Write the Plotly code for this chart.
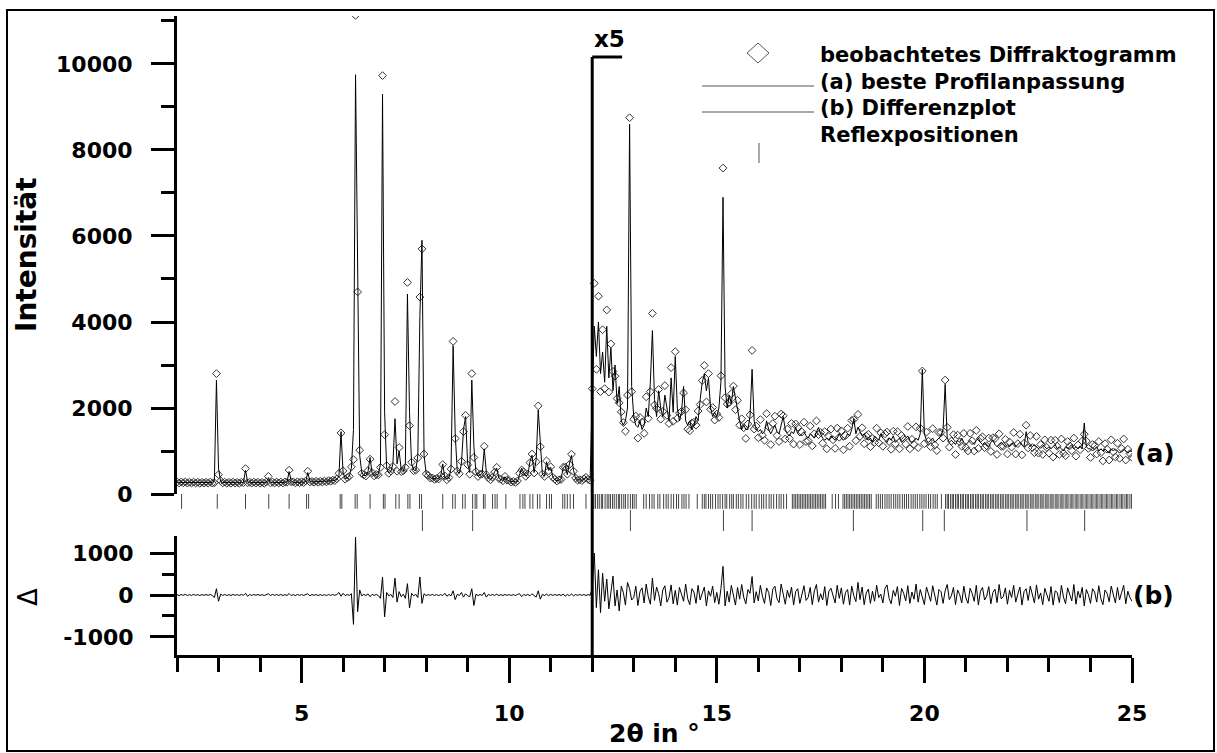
import numpy as np
import plotly.graph_objects as go

# measurement grid, 0.05 deg steps
tth = np.linspace(2.0, 25.0, 461)

# calculated profile 2.00 .. 11.95 (one row per degree)
calc_lo = [
    270, 270, 268, 268, 266, 265, 265, 264, 263, 263, 262, 262, 262, 261, 261, 262, 263, 265, 320, 2650,
    600, 290, 268, 265, 264, 263, 262, 262, 262, 262, 262, 262, 270, 550, 290, 265, 263, 263, 262, 262,
    262, 262, 263, 265, 380, 270, 265, 265, 266, 266, 267, 268, 270, 285, 520, 300, 272, 270, 270, 272,
    274, 276, 290, 500, 300, 280, 282, 284, 286, 288, 290, 292, 295, 300, 305, 310, 320, 340, 420, 1450,
    500, 360, 370, 420, 600, 1500, 9750, 5100, 900, 500, 430, 430, 520, 850, 480, 430, 440, 460, 700, 9300,
    1900, 600, 500, 520, 700, 1750, 700, 1000, 560, 520, 700, 4650, 1900, 700, 560, 540, 900, 4150, 5900, 900,
    480, 420, 380, 360, 350, 350, 360, 420, 700, 380, 360, 370, 600, 3450, 1400, 520, 480, 700, 1500, 1800,
    700, 500, 2650, 1100, 500, 420, 450, 480, 1050, 500, 360, 340, 380, 520, 600, 380, 330, 320, 400, 330,
    300, 290, 285, 280, 290, 450, 600, 500, 420, 450, 750, 900, 500, 800, 1950, 1200, 450, 420, 750, 550,
    620, 400, 330, 310, 320, 350, 600, 650, 450, 700, 900, 550, 360, 330, 320, 320, 340, 400, 330, 330,
]
# calculated profile 12.00 .. 25.00 (shown x5)
calc_hi = [
    2300, 3900, 3200, 4000, 2800, 3300, 2600, 3900, 2700, 3400, 2400, 3000, 2100, 2500, 1700, 1600, 1700, 2000, 8600, 2500,
    1800, 1600, 1550, 1700, 1500, 1600, 2000, 1800, 2600, 3800, 2200, 1800, 2400, 2000, 1800, 2300, 2000, 1700, 2700, 1900,
    3200, 2000, 1700, 1900, 2500, 1700, 1600, 1700, 1500, 1600, 1800, 1700, 2200, 2600, 2800, 2400, 2700, 2000, 1800, 1900,
    1800, 2000, 2600, 6900, 2500, 2000, 2300, 2100, 2500, 2200, 2000, 1700, 1500, 1600, 1500, 1500, 1800, 2900, 1700, 1500,
    1450, 1500, 1400, 1450, 1700, 1500, 1400, 1500, 1600, 1450, 1400, 1600, 1800, 1500, 1400, 1350, 1450, 1400, 1550, 1400,
    1350, 1400, 1450, 1350, 1300, 1400, 1350, 1300, 1450, 1550, 1400, 1300, 1250, 1300, 1250, 1350, 1300, 1250, 1300, 1400,
    1300, 1250, 1300, 1400, 1350, 1500, 1750, 1400, 1550, 1450, 1350, 1400, 1300, 1250, 1300, 1200, 1350, 1300, 1250, 1400,
    1300, 1250, 1200, 1300, 1250, 1350, 1200, 1250, 1300, 1200, 1250, 1300, 1350, 1250, 1200, 1250, 1300, 1250, 1400, 2900,
    1400, 1250, 1200, 1250, 1300, 1200, 1250, 1300, 1350, 1500, 2550, 1300, 1200, 1250, 1200, 1150, 1250, 1200, 1300, 1200,
    1150, 1200, 1250, 1200, 1150, 1250, 1300, 1200, 1150, 1200, 1150, 1100, 1200, 1250, 1150, 1100, 1150, 1200, 1150, 1100,
    1150, 1100, 1150, 1200, 1100, 1150, 1200, 1150, 1100, 1450, 1200, 1150, 1100, 1150, 1100, 1050, 1100, 1150, 1100, 1050,
    1100, 1050, 1100, 1150, 1050, 1100, 1050, 1000, 1100, 1050, 1100, 1150, 1050, 1100, 1050, 1100, 1050, 1650, 1100, 1050,
    1050, 1000, 1050, 1100, 1000, 1050, 1000, 1050, 1000, 950, 1050, 1000, 1050, 1000, 950, 1000, 1050, 1000, 950, 1000,
    1000,
]

# difference obs - calc, same grid
diff_lo = [
    10, -15, 12, -8, 15, -12, 8, -10, 14, -9, 11, -13, 9, -7, 12, -10, 15, -12, -60, 150,
    -150, 20, -10, 12, -14, 9, -11, 13, -8, 10, -12, 14, -9, 40, -30, 11, -10, 12, -9, 13,
    -11, 9, -13, 10, 30, -12, 14, -9, 11, -10, 12, -13, 9, -11, 35, -15, 10, -12, 14, -9,
    11, -10, 13, 30, -20, 12, -9, 11, -13, 10, -12, 9, -14, 11, -10, 13, -9, 12, 60, -30,
    40, -15, 12, -10, 30, -700, 1380, -400, 120, -20, 14, -12, 25, -40, 15, -10, 12, -15, -80, 430,
    -520, 60, -20, 15, -60, 400, -170, 80, -40, 20, -80, 270, -310, 40, -20, 15, -60, 430, -200, 30,
    -15, 12, -10, 13, -11, 9, -12, 10, -14, 40, -30, 12, -20, 100, -110, 15, -10, 60, -50, 30,
    -20, -40, 150, -250, 20, -14, 11, -12, 60, -50, 13, -10, 12, -11, 20, -15, 10, -12, 11, -9,
    10, -12, 9, -11, 13, 30, -40, 12, -10, 14, -20, 30, -12, -50, 100, -100, 14, -12, 20, -15,
    13, -10, 12, -9, 11, -13, 20, -25, 10, -15, 25, -20, 12, -10, 13, -9, 11, -12, 10, -9,
]
diff_hi = [
    150, 1000, -300, 600, -420, 520, -150, 380, -330, 90, 450, -260, 120, -380, 210, 60, -240, 300, 150, -120,
    -60, 210, -250, 80, 170, -190, 260, -40, -220, 400, -130, 190, 30, -260, 120, 220, -170, -60, 240, -210,
    110, -240, 180, 20, -150, 260, -90, -230, 150, 70, -200, 230, -120, 40, 190, -260, 100, -30, 210, -180,
    60, -220, 150, 680, -260, 90, -170, 230, 10, -240, 180, -100, 250, -60, -210, 130, 40, 440, -190, 80,
    -140, 230, -30, -200, 170, 60, -250, 140, 210, -90, -180, 260, 20, -220, 110, -60, 190, -240, 80, 150,
    -200, 40, 220, -130, -60, 180, -230, 100, 250, -170, 30, -120, 200, -250, 90, 160, -40, -190, 230, -80,
    170, -220, 60, 130, -240, 210, -20, -160, 300, -110, 190, -230, 50, 140, -200, 90, -150, 230, -60, 20,
    -190, 150, 240, -80, -210, 110, -30, 200, -250, 160, 40, -140, 220, -200, 70, -100, 260, -170, 130, -40,
    -230, 190, 30, -150, 220, -60, -240, 130, 80, -200, 100, 250, -110, -20, 180, -230, 120, 10, -190, 210,
    -70, -200, 160, 40, -150, 230, -240, 90, 180, -120, -30, 200, -210, 60, 140, -180, 250, -90, -40, 170,
    -220, 110, -60, 230, -170, 20, 190, -240, 80, 150, -130, 210, -20, -190, 240, -100, 50, -230, 160, 30,
    -150, 200, -240, 100, 60, -180, 230, -50, -210, 170, 20, -140, 250, -220, 90, -70, 180, -260, 130, 10,
    -200, 150, 70, -170, 220, -90, -230, 120, 40, -160, 210, -20, -190, 180, -120, 60, 230, -210, 90, -60,
    -150,
]

# reflection positions, main phase and second phase
refl_main = [
    2.11, 2.97, 3.65, 4.21, 4.70, 5.12, 5.17, 5.93, 5.97, 6.29, 6.34, 6.65, 6.97, 7.01, 7.27, 7.35,
    7.56, 7.61, 7.84, 7.89, 8.40, 8.64, 8.70, 8.88, 8.94, 9.12, 9.18, 9.22, 9.38, 9.42, 9.60, 9.66,
    9.71, 9.92, 10.26, 10.33, 10.38, 10.50, 10.57, 10.68, 10.74, 10.90, 10.97, 11.02, 11.29, 11.34,
    11.40, 11.47, 11.55, 11.85,
    12.00, 12.04, 12.08, 12.13, 12.17, 12.22, 12.25, 12.31, 12.36, 12.40, 12.44, 12.49, 12.53, 12.58,
    12.63, 12.66, 12.71, 12.76, 12.80, 12.86, 12.92, 12.97, 13.01, 13.06,
    13.24, 13.30, 13.38, 13.44, 13.49, 13.58, 13.63, 13.72, 13.78, 13.83, 13.90, 13.96, 14.03, 14.08,
    14.16, 14.21, 14.26, 14.33, 14.53,
    14.65, 14.70, 14.74, 14.80, 14.85, 14.90, 14.97, 15.03, 15.08, 15.14, 15.20, 15.24, 15.31, 15.36,
    15.40, 15.47, 15.52, 15.58, 15.63,
    15.71, 15.77, 15.84, 15.90, 15.95, 16.02, 16.08, 16.13, 16.19, 16.26, 16.31, 16.37, 16.44, 16.50,
    16.55, 16.61, 16.68,
    16.82, 16.86, 16.90, 16.94, 16.98, 17.02, 17.06, 17.10, 17.14, 17.18, 17.22, 17.26, 17.30, 17.34,
    17.38, 17.42, 17.46, 17.50, 17.54, 17.58, 17.62, 17.78, 17.86, 17.93,
    18.04, 18.08, 18.12, 18.16, 18.20, 18.24, 18.28, 18.32, 18.36, 18.40, 18.44, 18.48, 18.52, 18.56,
    18.60, 18.64, 18.68, 18.72,
    18.84, 18.89, 18.94, 18.99, 19.05, 19.10, 19.15, 19.20, 19.26, 19.31, 19.36, 19.41, 19.47, 19.52,
    19.57, 19.62, 19.68, 19.73, 19.78, 19.83, 19.89, 19.94, 19.99, 20.04, 20.10, 20.15, 20.21, 20.26,
    20.31, 20.41,
    20.51, 20.55, 20.58, 20.63, 20.67, 20.70, 20.75, 20.79, 20.82, 20.87, 20.91, 20.94, 20.99, 21.03,
    21.06, 21.11, 21.15, 21.18, 21.23, 21.27, 21.30, 21.35, 21.39, 21.42, 21.47, 21.51, 21.54, 21.59,
    21.63, 21.66, 21.71, 21.75, 21.78, 21.83, 21.87, 21.90, 21.95, 21.99, 22.02, 22.07, 22.11, 22.14,
    22.19, 22.23, 22.26, 22.31, 22.35, 22.38, 22.43, 22.47, 22.50, 22.55, 22.59, 22.62, 22.67, 22.71,
    22.74, 22.79, 22.83, 22.86, 22.91, 22.95, 22.98, 23.03, 23.07, 23.10, 23.15, 23.19, 23.22, 23.27,
    23.31, 23.34, 23.39, 23.43, 23.46, 23.51, 23.55, 23.58, 23.63, 23.67, 23.70, 23.75, 23.79, 23.82,
    23.87, 23.91, 23.94, 23.99, 24.03, 24.06, 24.11, 24.15, 24.18, 24.23, 24.27, 24.30, 24.35, 24.39,
    24.42, 24.47, 24.51, 24.54, 24.59, 24.63, 24.66, 24.71, 24.75, 24.78, 24.83, 24.87, 24.90, 24.95,
    24.99,
]
refl_second = [7.91, 9.12, 12.92, 15.16, 15.85, 18.29, 19.96, 20.48, 22.47, 23.86]

calc = np.array(calc_lo + calc_hi, dtype=float)
diff = np.array(diff_lo + diff_hi, dtype=float)
obs = calc + diff

# page geometry (pixels)
W, H = 1217, 753
L, R, T, B = 177, 85, 16, 98


def px(x):
    return (x - L) / (W - L - R)


def py(y):
    return (H - B - y) / (H - T - B)


FONT = "DejaVu Sans"
bold = dict(family=FONT, size=22, color="black", weight="bold")

fig = go.Figure()

fig.add_trace(go.Scatter(x=tth, y=obs, mode="markers", xaxis="x2", yaxis="y2",
                         marker=dict(symbol="diamond-open", size=6, color="#333",
                                     line=dict(width=1, color="#333"))))
fig.add_trace(go.Scatter(x=tth, y=calc, mode="lines", xaxis="x2", yaxis="y2",
                         line=dict(color="black", width=1)))
fig.add_trace(go.Scatter(x=tth, y=diff, mode="lines", xaxis="x", yaxis="y",
                         line=dict(color="black", width=1)))
fig.add_trace(go.Scatter(x=refl_main, y=[0.75] * len(refl_main), mode="markers",
                         xaxis="x", yaxis="y3",
                         marker=dict(symbol="line-ns-open", size=14, color="#444",
                                     line=dict(width=1, color="#444"))))
fig.add_trace(go.Scatter(x=refl_second, y=[0.26] * len(refl_second), mode="markers",
                         xaxis="x", yaxis="y3",
                         marker=dict(symbol="line-ns-open", size=15, color="#444",
                                     line=dict(width=1, color="#444"))))

axis_common = dict(showgrid=False, zeroline=False, linecolor="black", linewidth=3,
                   tickcolor="black", tickwidth=3, tickfont=bold)

fig.update_layout(
    width=W, height=H,
    margin=dict(l=L, r=R, t=T, b=B),
    paper_bgcolor="white", plot_bgcolor="white",
    showlegend=False,
    xaxis=dict(domain=[0, 1], range=[2, 25], anchor="y", showline=True,
               ticks="outside", ticklen=25, dtick=5, tick0=0, ticklabelstandoff=12,
               minor=dict(ticks="outside", ticklen=14, tickwidth=3, tickcolor="black",
                          dtick=1, tick0=0),
               **axis_common),
    xaxis2=dict(domain=[0, 1], range=[2, 25], anchor="y2", matches="x", visible=False),
    yaxis=dict(domain=[0, py(536)], range=[-1429, 1405], anchor="x", showline=True,
               ticks="outside", ticklen=24, tickmode="array",
               tickvals=[-1000, 0, 1000], ticktext=["-1000", "0", "1000"],
               ticklabelstandoff=12,
               minor=dict(ticks="outside", ticklen=12, tickwidth=3, tickcolor="black",
                          tickvals=[-500, 500]),
               **axis_common),
    yaxis2=dict(domain=[py(494), 1], range=[0, 11116], anchor="x2", showline=True,
                ticks="outside", ticklen=23, dtick=2000, tick0=0, tickformat="d",
                ticklabelstandoff=14,
                minor=dict(ticks="outside", ticklen=13, tickwidth=3, tickcolor="black",
                           dtick=1000, tick0=0),
                **axis_common),
    yaxis3=dict(domain=[py(532), py(488)], range=[0, 1], anchor="x", visible=False),
)

shapes = []
# x5 marker line at 12 deg with bracket
shapes.append(dict(type="line", xref="x", yref="paper", x0=12, x1=12, y0=0, y1=py(57),
                   line=dict(color="black", width=3)))
shapes.append(dict(type="line", xref="x", yref="paper", x0=12, x1=12.72, y0=py(57), y1=py(57),
                   line=dict(color="black", width=3)))
# outer frame
shapes.append(dict(type="rect", xref="paper", yref="paper", x0=px(7), x1=px(1214),
                   y0=py(751), y1=py(10), line=dict(color="black", width=2)))
# legend keys
cx, cy, hw, hh = 758, 53, 11, 10
path = "M {},{} L {},{} L {},{} L {},{} Z".format(
    px(cx - hw), py(cy), px(cx), py(cy - hh), px(cx + hw), py(cy), px(cx), py(cy + hh))
shapes.append(dict(type="path", xref="paper", yref="paper", path=path,
                   line=dict(color="#555", width=1)))
for yy in (86, 112):
    shapes.append(dict(type="line", xref="paper", yref="paper", x0=px(702), x1=px(814),
                       y0=py(yy), y1=py(yy), line=dict(color="#555", width=1)))
shapes.append(dict(type="line", xref="paper", yref="paper", x0=px(759), x1=px(759),
                   y0=py(143), y1=py(163), line=dict(color="#555", width=1)))
fig.update_layout(shapes=shapes)

legend_text = ["beobachtetes Diffraktogramm", "(a) beste Profilanpassung",
               "(b) Differenzplot", "Reflexpositionen"]
legend_y = [55, 82, 108, 135]
ann = []
for txt, yy in zip(legend_text, legend_y):
    ann.append(dict(text=txt, xref="paper", yref="paper", x=px(818), y=py(yy),
                    xanchor="left", yanchor="middle", showarrow=False,
                    font=dict(family=FONT, size=21, color="black", weight="bold")))
ann.append(dict(text="x5", xref="x", yref="paper", x=12, y=py(39), xanchor="left",
                yanchor="middle", showarrow=False,
                font=dict(family=FONT, size=23, color="black", weight="bold")))
ann.append(dict(text="(a)", xref="paper", yref="paper", x=px(1133), y=py(453),
                xanchor="left", yanchor="middle", showarrow=False,
                font=dict(family=FONT, size=25, color="black", weight="bold")))
ann.append(dict(text="(b)", xref="paper", yref="paper", x=px(1131), y=py(595),
                xanchor="left", yanchor="middle", showarrow=False,
                font=dict(family=FONT, size=25, color="black", weight="bold")))
ann.append(dict(text="Intensität", xref="paper", yref="paper", x=px(27), y=py(255),
                xanchor="center", yanchor="middle", textangle=-90, showarrow=False,
                font=dict(family=FONT, size=28, color="black", weight="bold")))
ann.append(dict(text="Δ", xref="paper", yref="paper", x=px(28), y=py(597),
                xanchor="center", yanchor="middle", textangle=-90, showarrow=False,
                font=dict(family=FONT, size=26, color="black")))
ann.append(dict(text="2θ in °", xref="paper", yref="paper", x=px(654), y=py(750),
                xanchor="center", yanchor="bottom", showarrow=False,
                font=dict(family=FONT, size=25, color="black", weight="bold")))
fig.update_layout(annotations=ann)

# drop the default page margin so the figure sits at the window's corner
fig.write_html("out.html", config={"displayModeBar": False},
               post_script="document.body.style.margin='0';")
